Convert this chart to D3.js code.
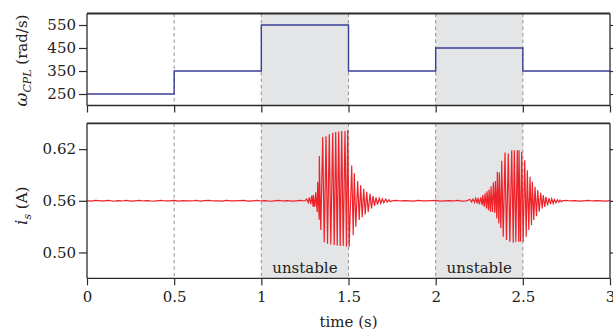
<!DOCTYPE html>
<html><head><meta charset="utf-8">
<script src="https://cdn.jsdelivr.net/npm/d3@7"></script>
<style>
html,body{margin:0;padding:0;background:#fff;}
svg{display:block;}
svg text{font-family:"DejaVu Serif",serif !important;fill:#222;}
</style></head>
<body><svg id="c" width="613" height="333"></svg>
<script>
// ---------- data ----------
const xTicks = [0, 0.5, 1, 1.5, 2, 2.5, 3];
const omegaTicks = [250, 350, 450, 550];
const currentTicks = [0.50, 0.56, 0.62];
const unstableStart = [1, 2];
const unstableEnd = [1.5, 2.5];
const eventTimes = [0.5, 1, 1.5, 2, 2.5];
const unstableLabels = ["unstable", "unstable"];

// omega_CPL step profile
const omegaT = [0, 0.5, 1, 1.5, 2, 2.5, 3];
const omegaV = [250, 350, 550, 350, 450, 350, 350];

// i_s baseline (sampled every 0.025 s)
const noiseDt = 0.025;
const noiseV = [
0.5601,0.5596,0.5604,0.5599,0.5600,0.5605,0.5595,0.5601,0.5598,0.5604,
0.5596,0.5600,0.5604,0.5598,0.5601,0.5595,0.5600,0.5605,0.5598,0.5600,
0.5604,0.5596,0.5601,0.5600,0.5598,0.5604,0.5596,0.5601,0.5605,0.5598,
0.5600,0.5596,0.5604,0.5600,0.5598,0.5601,0.5605,0.5596,0.5600,0.5604,
0.5598,0.5601,0.5595,0.5600,0.5604,0.5598,0.5601,0.5596,0.5600,0.5605,
0.5598,0.5601,0.5600,0.5596,0.5604,0.5600,0.5598,0.5601,0.5605,0.5596,
0.5600,0.5604,0.5598,0.5601,0.5595,0.5600,0.5604,0.5598,0.5601,0.5596,
0.5600,0.5605,0.5598,0.5601,0.5600,0.5596,0.5604,0.5600,0.5598,0.5601,
0.5604,0.5596,0.5600,0.5601,0.5598,0.5605,0.5596,0.5600,0.5604,0.5598,
0.5601,0.5595,0.5600,0.5604,0.5598,0.5601,0.5596,0.5600,0.5605,0.5598,
0.5601,0.5600,0.5596,0.5604,0.5600,0.5598,0.5601,0.5605,0.5596,0.5600,
0.5604,0.5598,0.5601,0.5596,0.5600,0.5604,0.5598,0.5601,0.5600,0.5596,0.5601];

// oscillation bursts: time of each crest, crest value, following trough value
const troughLag = 0.0086;
const burst1T = [1.2603,1.2752,1.2889,1.2981,1.3119,1.3234,1.3325,1.3520,1.3710,1.3899,
  1.4094,1.4266,1.4438,1.4610,1.4799,1.4954,1.5184,1.5333,1.5528,1.5700,1.5872,1.6044,
  1.6233,1.6406,1.6578,1.6767,1.6939,1.7134,1.7323];
const burst1Hi = [0.5620,0.5640,0.5660,0.5666,0.5700,0.5820,0.6120,0.6340,0.6350,0.6374,
  0.6390,0.6400,0.6405,0.6410,0.6410,0.6420,0.6010,0.5920,0.5830,0.5780,0.5740,0.5705,
  0.5680,0.5655,0.5640,0.5630,0.5624,0.5620,0.5612];
const burst1Lo = [0.5580,0.5560,0.5530,0.5530,0.5470,0.5380,0.5260,0.5120,0.5100,0.5094,
  0.5086,0.5080,0.5076,0.5076,0.5070,0.5066,0.5200,0.5300,0.5376,0.5410,0.5440,0.5470,
  0.5510,0.5540,0.5555,0.5570,0.5577,0.5585,0.5590];
const burst2T = [2.1970,2.2142,2.2297,2.2429,2.2584,2.2699,2.2830,2.2945,2.3060,2.3175,
  2.3307,2.3422,2.3536,2.3651,2.3789,2.3977,2.4167,2.4362,2.4511,2.4683,2.4780,2.4935,
  2.5107,2.5257,2.5411,2.5543,2.5698,2.5853,2.6025,2.6174,2.6329,2.6501,2.6656,2.6806,
  2.6978,2.7133];
const burst2Hi = [0.5615,0.5620,0.5630,0.5635,0.5639,0.5666,0.5686,0.5710,0.5732,0.5770,
  0.5813,0.5829,0.5937,0.5930,0.6064,0.6162,0.6150,0.6188,0.6188,0.6188,0.6188,0.6170,
  0.6072,0.5956,0.5879,0.5820,0.5762,0.5724,0.5693,0.5666,0.5647,0.5631,0.5624,0.5616,
  0.5612,0.5608];
const burst2Lo = [0.5585,0.5580,0.5570,0.5560,0.5550,0.5530,0.5510,0.5490,0.5472,0.5470,
  0.5460,0.5396,0.5338,0.5280,0.5182,0.5144,0.5124,0.5113,0.5124,0.5124,0.5124,0.5124,
  0.5182,0.5260,0.5318,0.5376,0.5422,0.5472,0.5511,0.5530,0.5546,0.5562,0.5569,0.5577,
  0.5585,0.5590];

// ---------- layout ----------
const svg = d3.select("#c");
const X0 = 87, X1 = 610;
const pTop = {y0: 13.5, y1: 105.5};
const pBot = {y0: 123.3, y1: 278.3};
const x = d3.scaleLinear().domain([0, 3]).range([X0, X1]);
const yW = d3.scaleLinear().domain([200, 600]).range([pTop.y1, pTop.y0]);
const yI = d3.scaleLinear().domain([0.47, 0.65]).range([pBot.y1, pBot.y0]);

const FS = 15;
const FF = "DejaVu Serif";
const axisCol = "#2b2b2b";

function panel(p) {
  svg.append("g").selectAll("rect").data(unstableStart).join("rect")
    .attr("x", (d) => x(d)).attr("width", (d, i) => x(unstableEnd[i]) - x(d))
    .attr("y", p.y0).attr("height", p.y1 - p.y0).attr("fill", "#e4e5e7");
  svg.append("g").selectAll("line").data(eventTimes).join("line")
    .attr("x1", (d) => x(d)).attr("x2", (d) => x(d))
    .attr("y1", p.y0).attr("y2", p.y1)
    .attr("stroke", "#9a9a9a").attr("stroke-width", 1.1).attr("stroke-dasharray", "3.5,3");
}
panel(pTop);
panel(pBot);

// omega step line
const stepLine = d3.line().x((d) => x(d[0])).y((d) => yW(d[1])).curve(d3.curveStepAfter);
svg.append("path").datum(omegaT.map((t, i) => [t, omegaV[i]]))
  .attr("d", stepLine).attr("fill", "none").attr("stroke", "#3a3f98").attr("stroke-width", 1.4);

// current signal assembly
const sig = [];
const noisePts = noiseV.map((v, i) => [i * noiseDt, v]);
function pushBurst(T, H, L) {
  T.forEach((t, i) => { sig.push([t, H[i]]); sig.push([t + troughLag, L[i]]); });
}
const b1s = burst1T[0], b1e = burst1T[burst1T.length - 1] + troughLag;
const b2s = burst2T[0], b2e = burst2T[burst2T.length - 1] + troughLag;
noisePts.filter((d) => d[0] < b1s).forEach((d) => sig.push(d));
pushBurst(burst1T, burst1Hi, burst1Lo);
noisePts.filter((d) => d[0] > b1e && d[0] < b2s).forEach((d) => sig.push(d));
pushBurst(burst2T, burst2Hi, burst2Lo);
noisePts.filter((d) => d[0] > b2e).forEach((d) => sig.push(d));

const sigLine = d3.line().x((d) => x(d[0])).y((d) => yI(d[1]));
svg.append("path").datum(sig).attr("d", sigLine)
  .attr("fill", "none").attr("stroke", "#ee2229").attr("stroke-width", 1.2);

// frames and axes
function frame(p, yScale, yTicks, showX, fmt) {
  const gL = svg.append("g").attr("transform", `translate(${X0},0)`)
    .call(d3.axisLeft(yScale).tickValues(yTicks).tickSize(8).tickSizeOuter(0).tickPadding(3)
      .tickFormat(fmt));
  const gR = svg.append("g").attr("transform", `translate(${X1},0)`)
    .call(d3.axisRight(yScale).tickValues(yTicks).tickSize(5).tickSizeOuter(0).tickFormat(""));
  const gB = svg.append("g").attr("transform", `translate(0,${p.y1})`)
    .call(d3.axisBottom(x).tickValues(xTicks).tickSize(7).tickSizeOuter(0).tickPadding(6)
      .tickFormat(showX ? d3.format("") : ""));
  [gL, gR, gB].forEach((g) => {
    g.attr("font-family", FF).attr("font-size", FS);
    g.select(".domain").remove();
    g.selectAll("line").attr("stroke", axisCol).attr("stroke-width", 1.2);
    g.selectAll("text").attr("fill", "#222");
  });
  svg.append("line").attr("x1", X0).attr("x2", X1).attr("y1", p.y0).attr("y2", p.y0)
    .attr("stroke", axisCol).attr("stroke-width", 1.8);
  svg.append("line").attr("x1", X0).attr("x2", X1).attr("y1", p.y1).attr("y2", p.y1)
    .attr("stroke", axisCol).attr("stroke-width", 1.3);
  svg.append("line").attr("x1", X0).attr("x2", X0).attr("y1", p.y0).attr("y2", p.y1)
    .attr("stroke", axisCol).attr("stroke-width", 1.3);
  svg.append("line").attr("x1", X1).attr("x2", X1).attr("y1", p.y0).attr("y2", p.y1)
    .attr("stroke", axisCol).attr("stroke-width", 1.3);
}
frame(pTop, yW, omegaTicks, false, d3.format("d"));
frame(pBot, yI, currentTicks, true, d3.format(".2f"));

// unstable labels
svg.append("g").selectAll("text").data(unstableLabels).join("text")
  .attr("x", (d, i) => x((unstableStart[i] + unstableEnd[i]) / 2)).attr("y", 273)
  .attr("text-anchor", "middle").attr("font-family", FF).attr("font-size", FS).text((d) => d);

// y labels
const lw = svg.append("text").attr("transform", `translate(27,${(pTop.y0 + pTop.y1) / 2 + 1}) rotate(-90)`)
  .attr("text-anchor", "middle").attr("font-family", FF).attr("font-size", FS);
lw.append("tspan").attr("font-style", "italic").attr("font-size", 17).text("ω");
lw.append("tspan").attr("font-style", "italic").attr("font-size", 11).attr("dy", 4).text("CPL");
lw.append("tspan").attr("dy", -4).text(" (rad/s)");

const li = svg.append("text").attr("transform", `translate(27,${(pBot.y0 + pBot.y1) / 2 + 5}) rotate(-90)`)
  .attr("text-anchor", "middle").attr("font-family", FF).attr("font-size", FS);
li.append("tspan").attr("font-style", "italic").attr("font-size", 17).text("i");
li.append("tspan").attr("font-style", "italic").attr("font-size", 11).attr("dy", 4).text("s");
li.append("tspan").attr("dy", -4).text(" (A)");

// x label
svg.append("text").attr("x", (X0 + X1) / 2).attr("y", 327).attr("text-anchor", "middle")
  .attr("font-family", FF).attr("font-size", FS).text("time (s)");
</script></body></html>
